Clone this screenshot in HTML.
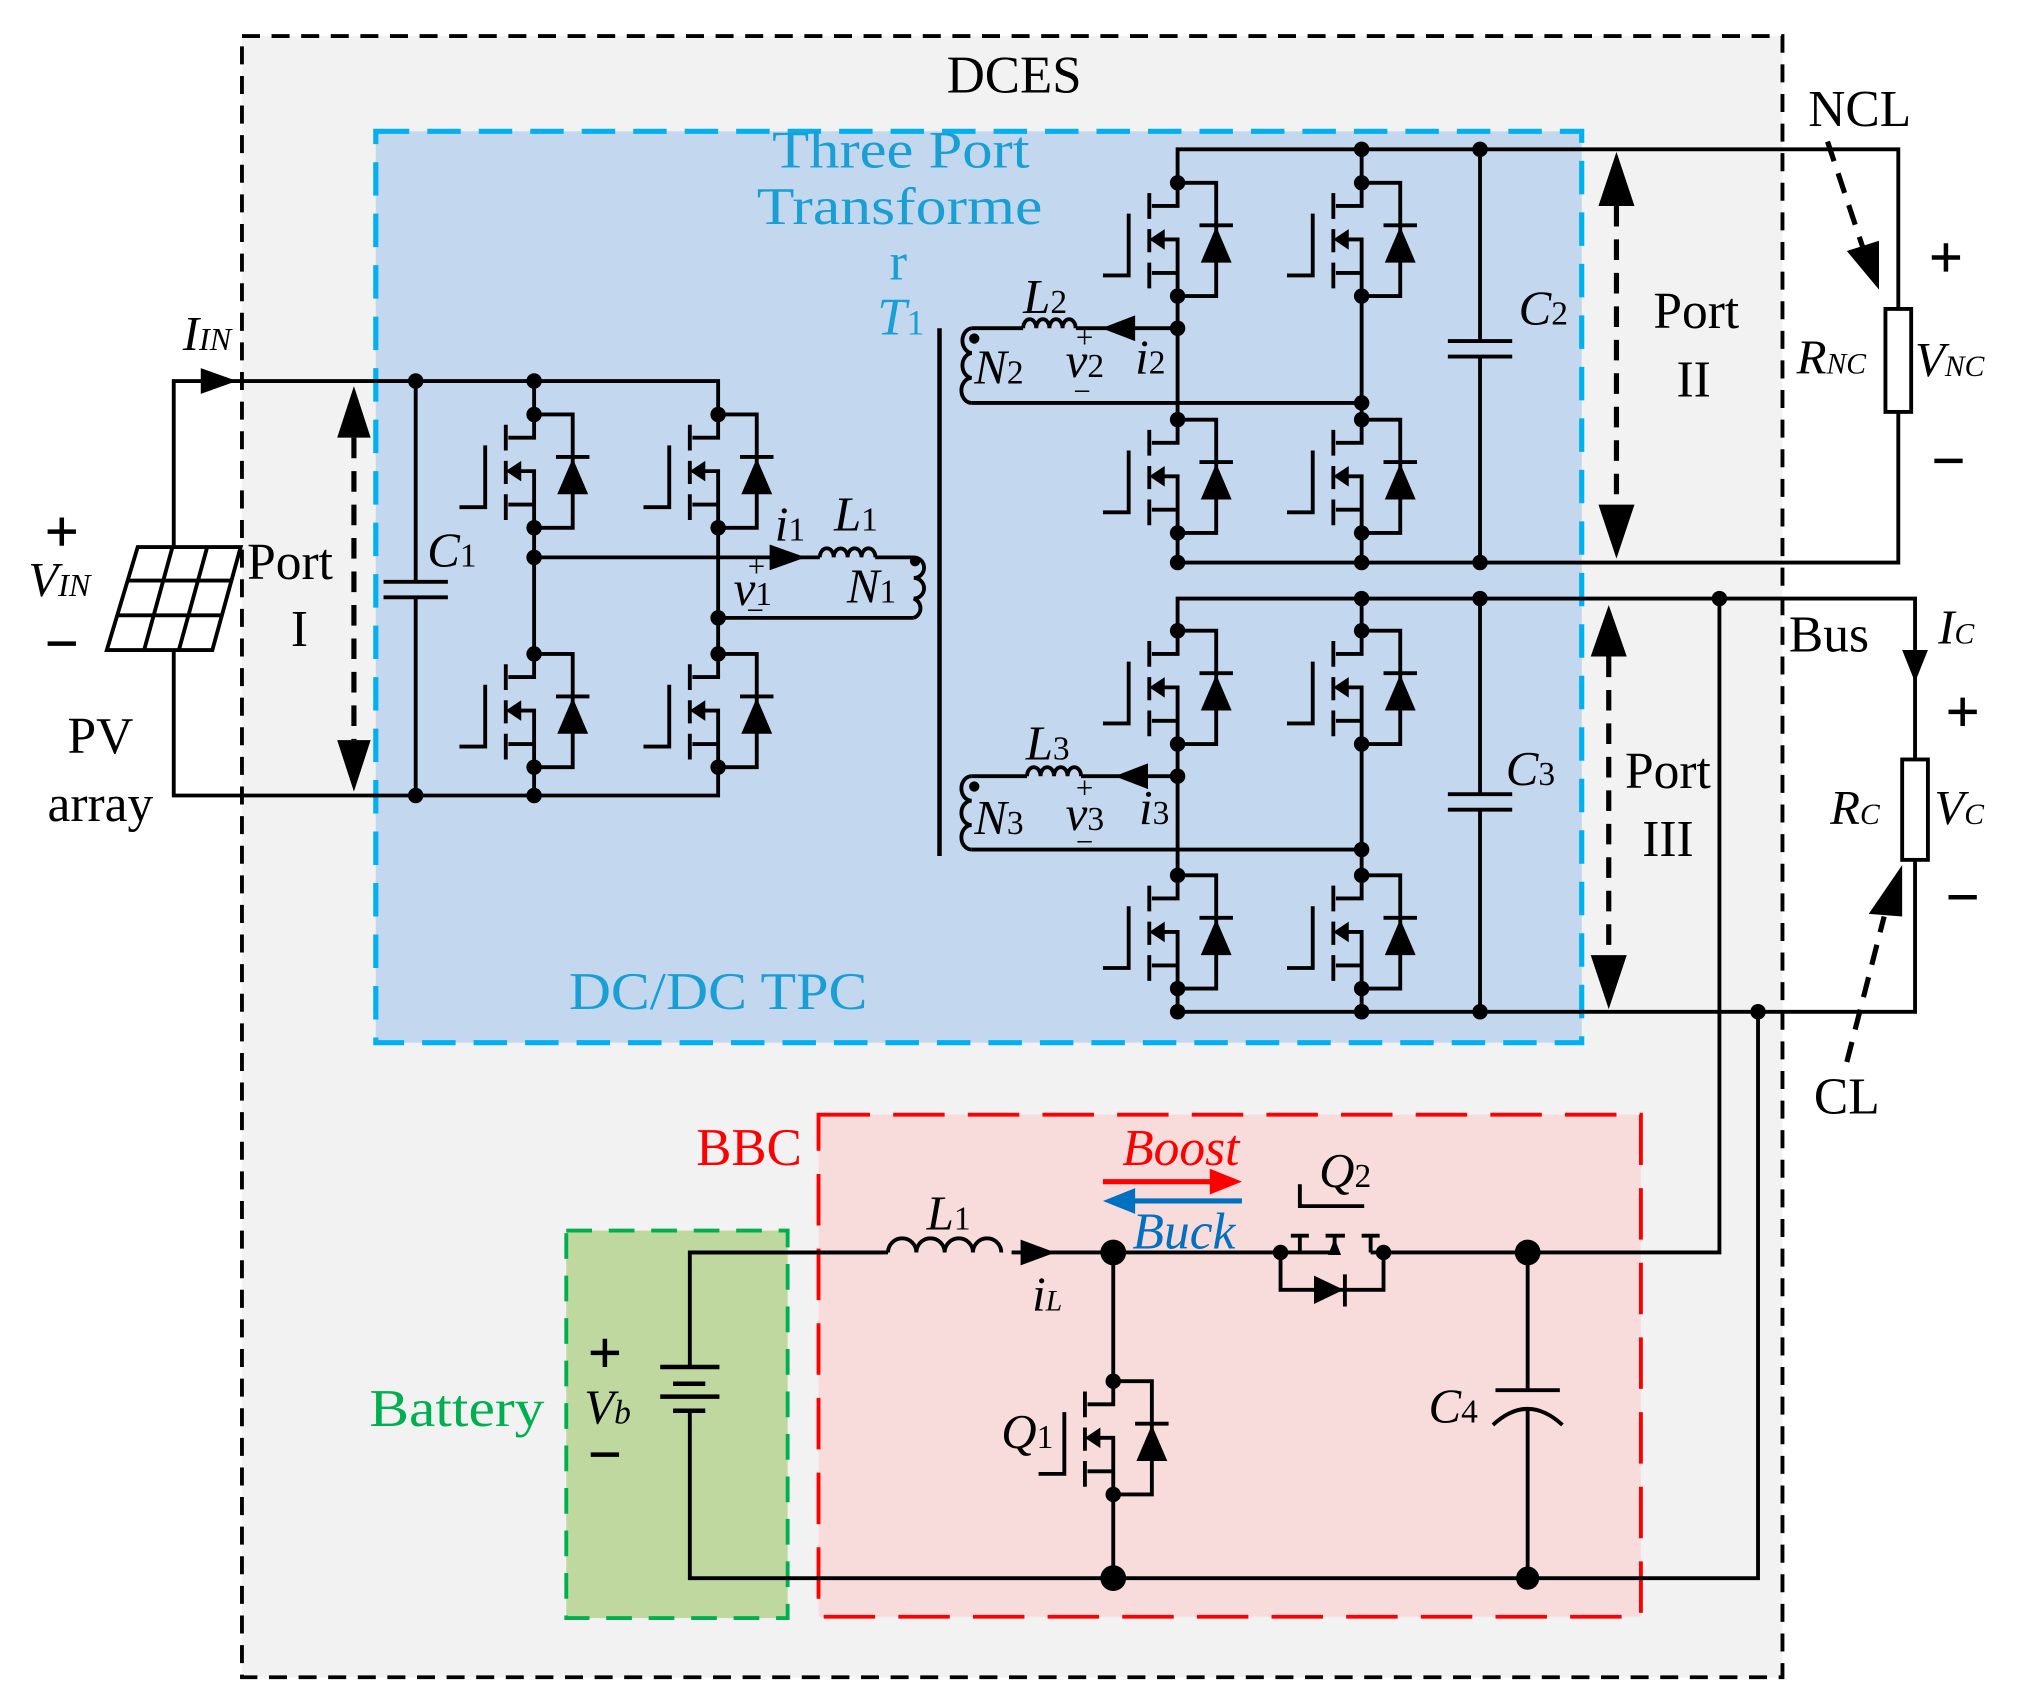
<!DOCTYPE html>
<html><head><meta charset="utf-8"><style>
html,body{margin:0;padding:0;background:#fff;}
svg{display:block;}
text{font-family:"Liberation Serif",serif;}
</style></head><body>
<svg width="2018" height="1703" viewBox="0 0 1568 1323" preserveAspectRatio="none" xmlns="http://www.w3.org/2000/svg">
<defs>
<g id="m">
 <path d="M0,0 V18 H-20 M-20,44 H0 V88 M0,70 H-20" fill="none" stroke="#000" stroke-width="3"/>
 <path d="M-22,8 V28 M-22,36 V54 M-22,62 V82" stroke="#000" stroke-width="3"/>
 <path d="M-38,24 V72 H-58" fill="none" stroke="#000" stroke-width="3"/>
 <polygon points="-22,44 -10,36 -10,52" fill="#000"/>
 <path d="M0,0 H30 V88 H0" fill="none" stroke="#000" stroke-width="3"/>
 <polygon points="18,62 42,62 30,34" fill="#000"/>
 <path d="M17,33 H43" stroke="#000" stroke-width="3"/>
 <circle cx="0" cy="0" r="6" fill="#000"/><circle cx="0" cy="88" r="6" fill="#000"/>
</g>
<g id="plus"><path d="M-11,0 H11 M0,-11 V11" stroke="#000" stroke-width="3.5"/></g>
<g id="minus"><path d="M-11,0 H11" stroke="#000" stroke-width="3.5"/></g>
</defs>
<rect width="1568" height="1323" fill="#fff"/>
<rect x="188" y="28" width="1197" height="1275" fill="#f2f2f2" stroke="#000" stroke-width="3" stroke-dasharray="14,9"/>
<text x="788" y="72" font-size="41" text-anchor="middle">DCES</text>
<rect x="292" y="102" width="937" height="708" fill="#c3d8ee" stroke="#00b0f0" stroke-width="4" stroke-dasharray="26,14"/>
<rect x="636" y="866" width="639" height="390" fill="#f8dcdc" stroke="#ff0000" stroke-width="3" stroke-dasharray="40,18"/>
<rect x="440" y="956" width="172" height="301" fill="#bfd89f" stroke="#00b050" stroke-width="3" stroke-dasharray="20,13"/>

<g fill="#1a9fd4" font-size="41" text-anchor="middle">
<text x="700" y="130" textLength="200" lengthAdjust="spacingAndGlyphs">Three Port</text>
<text x="699" y="174" textLength="222" lengthAdjust="spacingAndGlyphs">Transforme</text>
<text x="698" y="217">r</text>
<text x="700" y="260" font-style="italic">T<tspan font-size="28" font-style="normal">1</tspan></text>
<text x="558" y="784" textLength="232" lengthAdjust="spacingAndGlyphs">DC/DC TPC</text>
</g>
<text x="582" y="905" font-size="41" fill="#ff0000" text-anchor="middle">BBC</text>
<text x="355" y="1108" font-size="41" fill="#00b050" text-anchor="middle" textLength="136" lengthAdjust="spacingAndGlyphs">Battery</text>

<g stroke="#000" stroke-width="3" fill="none">
<path d="M135,425 V296 H558 V322"/>
<path d="M135,505 V618 H558 V596"/>
<path d="M323,296 V452 M323,464 V618 M298,452 H348 M298,464 H348"/>
<path d="M415,296 V322 M415,410 V508 M415,596 V618 M558,410 V508"/>
<path d="M415,433 H637 M680,433 H710 M558,480 H710"/>
<path d="M637,433 a5.4,7 0 0 1 10.8,0 a5.4,7 0 0 1 10.8,0 a5.4,7 0 0 1 10.8,0 a5.4,7 0 0 1 10.8,0"/>
<path d="M710,433 a8,8 0 0 1 0,16 a8,8 0 0 1 0,16 a8,8 0 0 1 0,15"/>
<path d="M730,255 V665" stroke-width="3.5"/>
<path d="M915,142 V116 H1475 V240 M1058,116 V142 M915,230 V326 M1058,230 V326 M915,414 V437 M1058,414 V437 M915,437 H1475 V320"/>
<path d="M1150,116 V265 M1150,277 V437 M1125,265 H1175 M1125,277 H1175"/>
<path d="M915,255 H836 M795,255 H755 M1058,313 H755"/>
<path d="M795,255 a5.1,7 0 0 1 10.2,0 a5.1,7 0 0 1 10.2,0 a5.1,7 0 0 1 10.2,0 a5.1,7 0 0 1 10.2,0"/>
<path d="M755,255 a8,9.7 0 0 0 0,19.3 a8,9.7 0 0 0 0,19.3 a8,9.7 0 0 0 0,19.4"/>
<path d="M915,490 V465 H1488 V590 M1058,465 V490 M915,578 V680 M1058,578 V680 M915,768 V786 M1058,768 V786 M915,786 H1488 V668"/>
<path d="M1150,465 V617 M1150,629 V786 M1125,617 H1175 M1125,629 H1175"/>
<path d="M915,603 H840 M798,603 H755 M1058,660 H755"/>
<path d="M798,603 a5.25,7 0 0 1 10.5,0 a5.25,7 0 0 1 10.5,0 a5.25,7 0 0 1 10.5,0 a5.25,7 0 0 1 10.5,0"/>
<path d="M755,603 a8,9.5 0 0 0 0,19 a8,9.5 0 0 0 0,19 a8,9.5 0 0 0 0,19"/>
<rect x="1465" y="240" width="20" height="80" fill="#fff"/>
<rect x="1478" y="590" width="20" height="78" fill="#fff"/>
<path d="M1336,465 V973 H1075 M995,973 H536 V1062 M536,1096 V1226 H1366 V786"/>
<path d="M865,973 V1073 M865,1161 V1226 M1187,973 V1080 M1162,1080 H1212"/>
<path d="M1160,1107 Q1187,1082 1214,1107 M1187,1094 V1226"/>
<path d="M995,973 H1010 M1010,960 V973 M1003,960 H1017 M1030,960 H1045 M1037,960 V973 M1058,960 H1072 M1065,960 V973 M1065,973 H1075 M1010,973 H1037 M1010,920 V937 H1060"/>
<path d="M995,973 V1002 H1075 V973"/>
</g>
<rect x="686" y="960" width="100" height="20" fill="#f8dcdc"/>
<path d="M690,973 a11,11 0 0 1 22,0 a11,11 0 0 1 22,0 a11,11 0 0 1 22,0 a11,11 0 0 1 22,0" stroke="#000" stroke-width="3" fill="none"/>
<path d="M536,973 H690" stroke="#000" stroke-width="3"/>
<polygon points="1037,962 1032,975 1042,975" fill="#000"/>
<polygon points="1021,991 1021,1013 1044,1002" fill="#000"/>
<path d="M1045,990 V1015" stroke="#000" stroke-width="3"/>
<g stroke="#000" stroke-width="3.5"><path d="M513,1062 H559 M523,1075 H548 M513,1085 H559 M523,1096 H548"/></g>

<use href="#m" x="415" y="322"/><use href="#m" x="558" y="322"/>
<use href="#m" x="415" y="508"/><use href="#m" x="558" y="508"/>
<use href="#m" x="915" y="142"/><use href="#m" x="1058" y="142"/>
<use href="#m" x="915" y="326"/><use href="#m" x="1058" y="326"/>
<use href="#m" x="915" y="490"/><use href="#m" x="1058" y="490"/>
<use href="#m" x="915" y="680"/><use href="#m" x="1058" y="680"/>
<use href="#m" x="865" y="1073"/>

<g fill="#000">
<circle cx="323" cy="296" r="6"/><circle cx="323" cy="618" r="6"/><circle cx="415" cy="296" r="6"/><circle cx="415" cy="618" r="6"/>
<circle cx="415" cy="433" r="6"/><circle cx="558" cy="480" r="6"/>
<circle cx="1058" cy="116" r="6"/><circle cx="1150" cy="116" r="6"/><circle cx="915" cy="255" r="6"/><circle cx="1058" cy="313" r="6"/>
<circle cx="915" cy="437" r="6"/><circle cx="1058" cy="437" r="6"/><circle cx="1150" cy="437" r="6"/>
<circle cx="1058" cy="465" r="6"/><circle cx="1150" cy="465" r="6"/><circle cx="915" cy="603" r="6"/><circle cx="1058" cy="660" r="6"/>
<circle cx="915" cy="786" r="6"/><circle cx="1058" cy="786" r="6"/><circle cx="1150" cy="786" r="6"/>
<circle cx="1336" cy="465" r="6"/><circle cx="1366" cy="786" r="6"/>
<circle cx="865" cy="973" r="10"/><circle cx="865" cy="1226" r="10"/><circle cx="1187" cy="973" r="10"/><circle cx="1187" cy="1226" r="9"/>
<circle cx="995" cy="973" r="6"/><circle cx="1075" cy="973" r="6"/>
<circle cx="711" cy="436" r="4"/><circle cx="757" cy="263" r="4"/><circle cx="757" cy="611" r="4"/>
<polygon points="156,286 156,306 184,296"/>
<polygon points="598,423 598,443 626,433"/>
<polygon points="882,245 882,265 856,255"/>
<polygon points="892,593 892,613 866,603"/>
<polygon points="793,963 793,983 820,973"/>
<polygon points="1478,505 1498,505 1488,530"/>
<polygon points="262,340 288,340 275,300"/><polygon points="262,575 288,575 275,615"/>
<polygon points="1242,160 1270,160 1256,118"/><polygon points="1242,392 1270,392 1256,434"/>
<polygon points="1236,510 1264,510 1250,470"/><polygon points="1236,742 1264,742 1250,784"/>
<polygon points="1435,195 1460,225 1460,187"/><polygon points="1452,710 1478,712 1478,672"/>
</g>
<g stroke="#000" stroke-width="4" stroke-dasharray="16,10" fill="none">
<path d="M275,340 V575"/><path d="M1256,160 V392"/><path d="M1250,510 V742"/>
<path d="M1420,110 L1450,200"/><path d="M1435,825 L1464,712"/>
</g>
<g stroke="#000" stroke-width="3" fill="#fff">
<polygon points="107,425 187,425 165,505 83,505"/>
</g>
<path d="M100,451 H180 M91,478 H172 M134,425 L112,505 M161,425 L139,505" stroke="#000" stroke-width="3"/>
<path d="M857,918 H945" stroke="#ff0000" stroke-width="4"/><polygon points="940,908 965,918 940,928" fill="#ff0000"/>
<path d="M880,933 H965" stroke="#0070c0" stroke-width="4"/><polygon points="882,923 857,933 882,943" fill="#0070c0"/>

<!-- plus/minus signs -->
<use href="#plus" x="48" y="413"/><use href="#minus" x="48" y="500"/>
<use href="#plus" x="1512" y="200"/><use href="#minus" x="1514" y="358"/>
<use href="#plus" x="1525" y="553"/><use href="#minus" x="1525" y="697"/>
<use href="#plus" x="470" y="1051"/><use href="#minus" x="470" y="1130"/>

<g font-size="38" fill="#000">
<text x="142" y="272" font-style="italic">I<tspan font-size="25">IN</tspan></text>
<text x="22" y="463" font-style="italic">V<tspan font-size="25">IN</tspan></text>
<text x="78" y="585" text-anchor="middle" font-size="40">PV</text>
<text x="78" y="638" text-anchor="middle" font-size="40">array</text>
<text x="192" y="450" font-size="40">Port</text>
<text x="226" y="502" font-size="40">I</text>
<text x="332" y="440" font-style="italic">C<tspan font-size="26" font-style="normal">1</tspan></text>
<text x="602" y="420" font-style="italic">i<tspan font-size="26" font-style="normal">1</tspan></text>
<text x="648" y="412" font-style="italic">L<tspan font-size="26" font-style="normal">1</tspan></text>
<text x="570" y="470" font-style="italic">v<tspan font-size="26" font-style="normal">1</tspan></text>
<text x="581" y="448" font-size="24">+</text><text x="580" y="482" font-size="24">−</text>
<text x="658" y="468" font-style="italic">N<tspan font-size="26" font-style="normal">1</tspan></text>
<text x="795" y="243" font-style="italic">L<tspan font-size="26" font-style="normal">2</tspan></text>
<text x="757" y="298" font-style="italic">N<tspan font-size="26" font-style="normal">2</tspan></text>
<text x="828" y="293" font-style="italic">v<tspan font-size="26" font-style="normal">2</tspan></text>
<text x="836" y="270" font-size="24">+</text><text x="834" y="312" font-size="24">−</text>
<text x="882" y="290" font-style="italic">i<tspan font-size="26" font-style="normal">2</tspan></text>
<text x="797" y="590" font-style="italic">L<tspan font-size="26" font-style="normal">3</tspan></text>
<text x="757" y="648" font-style="italic">N<tspan font-size="26" font-style="normal">3</tspan></text>
<text x="828" y="645" font-style="italic">v<tspan font-size="26" font-style="normal">3</tspan></text>
<text x="836" y="620" font-size="24">+</text><text x="836" y="662" font-size="24">−</text>
<text x="885" y="640" font-style="italic">i<tspan font-size="26" font-style="normal">3</tspan></text>
<text x="1180" y="252" font-style="italic">C<tspan font-size="26" font-style="normal">2</tspan></text>
<text x="1170" y="610" font-style="italic">C<tspan font-size="26" font-style="normal">3</tspan></text>
<text x="1318" y="255" text-anchor="middle" font-size="40">Port</text>
<text x="1316" y="308" text-anchor="middle" font-size="40">II</text>
<text x="1296" y="612" text-anchor="middle" font-size="40">Port</text>
<text x="1296" y="665" text-anchor="middle" font-size="40">III</text>
<text x="1445" y="98" text-anchor="middle" font-size="40">NCL</text>
<text x="1396" y="290" font-style="italic">R<tspan font-size="23">NC</tspan></text>
<text x="1488" y="292" font-style="italic">V<tspan font-size="23">NC</tspan></text>
<text x="1390" y="506" font-size="40">Bus</text>
<text x="1506" y="500" font-style="italic">I<tspan font-size="23">C</tspan></text>
<text x="1422" y="640" font-style="italic">R<tspan font-size="23">C</tspan></text>
<text x="1503" y="640" font-style="italic">V<tspan font-size="23">C</tspan></text>
<text x="1435" y="865" text-anchor="middle" font-size="40">CL</text>
<text x="872" y="905" font-style="italic" fill="#ff0000" font-size="40">Boost</text>
<text x="880" y="970" font-style="italic" fill="#0070c0" font-size="40">Buck</text>
<text x="1025" y="922" font-style="italic">Q<tspan font-size="26" font-style="normal">2</tspan></text>
<text x="720" y="955" font-style="italic">L<tspan font-size="26" font-style="normal">1</tspan></text>
<text x="802" y="1018" font-style="italic">i<tspan font-size="23">L</tspan></text>
<text x="778" y="1125" font-style="italic">Q<tspan font-size="26" font-style="normal">1</tspan></text>
<text x="1110" y="1105" font-style="italic">C<tspan font-size="26" font-style="normal">4</tspan></text>
<text x="454" y="1106" font-style="italic">V<tspan font-size="26">b</tspan></text>
</g>
</svg>
</body></html>
